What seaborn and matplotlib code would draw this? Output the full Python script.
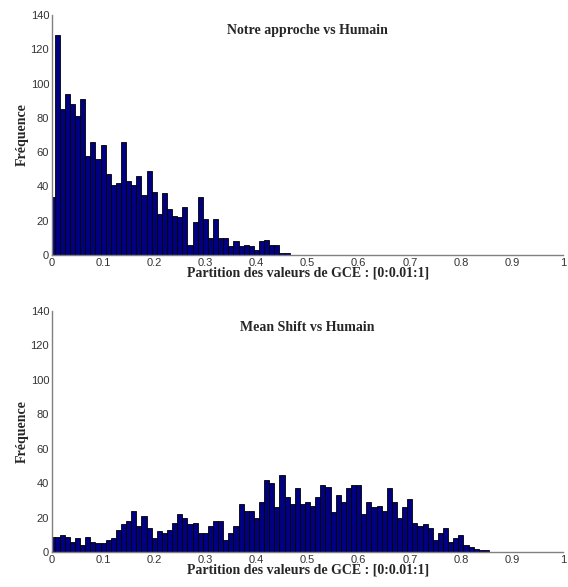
import numpy as np
import pandas as pd
import seaborn as sns
import matplotlib.pyplot as plt

# hist(data, 0:0.01:1) -> counts per bin centre
centres = np.round(np.arange(0, 1.001, 0.01), 2)

# Notre approche vs Humain (centres 0.00 .. 0.46, rest are empty)
notre_counts = [34, 128, 85, 94, 88, 81, 91, 58, 66, 56,
                64, 47, 41, 42, 66, 43, 41, 46, 35, 49,
                37, 24, 36, 27, 23, 22, 28, 6, 19, 34,
                21, 10, 21, 10, 10, 5, 8, 5, 6, 5,
                3, 8, 9, 6, 6, 1, 1]

# Mean Shift vs Humain (centres 0.00 .. 0.85, rest are empty)
meanshift_counts = [9, 9, 10, 9, 6, 8, 4, 9, 6, 5,
                    5, 7, 8, 13, 16, 18, 24, 15, 21, 14,
                    8, 12, 11, 13, 17, 22, 20, 16, 17, 11,
                    11, 15, 18, 18, 7, 11, 15, 28, 24, 24,
                    20, 29, 42, 40, 26, 45, 32, 28, 37, 28,
                    29, 27, 32, 39, 38, 23, 33, 29, 37, 39,
                    39, 22, 29, 26, 27, 24, 37, 29, 20, 26,
                    31, 17, 15, 16, 14, 7, 11, 14, 6, 8,
                    10, 4, 3, 2, 1, 1]

titles = ['Notre approche vs Humain', 'Mean Shift vs Humain']
xlabel = 'Partition des valeurs de GCE : [0:0.01:1]'
ylabel = 'Fréquence'
xticks = np.round(np.arange(0, 1.01, 0.1), 1)
xtick_labels = ['0', '0.1', '0.2', '0.3', '0.4', '0.5', '0.6', '0.7', '0.8', '0.9', '1']
yticks = [0, 20, 40, 60, 80, 100, 120, 140]


def pad(counts):
    return list(counts) + [0] * (len(centres) - len(counts))


sns.set_style('white')
plt.rcParams['font.family'] = ['Liberation Sans', 'DejaVu Sans']

fig = plt.figure(figsize=(5.68, 5.87), dpi=100)
ax_top = fig.add_axes([0.0915, 0.5656, 0.900, 0.409])
ax_bot = fig.add_axes([0.0915, 0.0596, 0.900, 0.4106])

serif = {'family': 'Liberation Serif', 'weight': 'bold', 'size': 10}

for ax, counts, title, ty in [(ax_top, notre_counts, titles[0], 0.935),
                              (ax_bot, meanshift_counts, titles[1], 0.932)]:
    df = pd.DataFrame({'gce': centres, 'n': pad(counts)})
    sns.histplot(data=df, x='gce', weights='n', binwidth=0.01,
                 binrange=(-0.005, 1.005), ax=ax,
                 color='#000080', edgecolor='black', linewidth=0.6, alpha=1)
    ax.set_xlim(0, 1)
    ax.set_ylim(0, 140)
    ax.set_xticks(xticks)
    ax.set_xticklabels(xtick_labels)
    ax.set_yticks(yticks)
    ax.tick_params(direction='in', length=3, width=0.8, colors='#808080',
                   labelcolor='#333333', labelsize=8, pad=2)
    for side in ['top', 'right']:
        ax.spines[side].set_visible(False)
    for side in ['left', 'bottom']:
        ax.spines[side].set_color('#808080')
        ax.spines[side].set_linewidth(1.0)
    ax.text(0.5, ty, title, transform=ax.transAxes, ha='center', va='center',
            fontdict=serif)
    ax.set_xlabel(xlabel, fontdict=serif, labelpad=-1)
    ax.set_ylabel(ylabel, fontdict=serif, labelpad=1)

fig.savefig('out.png', dpi=100, facecolor='white')
